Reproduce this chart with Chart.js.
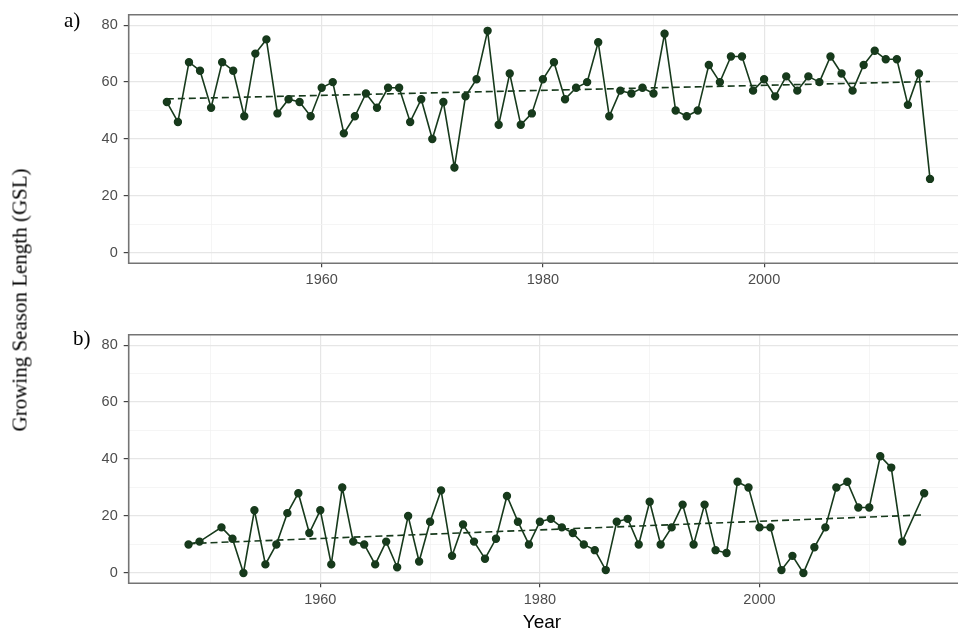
<!DOCTYPE html>
<html>
<head>
<meta charset="utf-8">
<script src="https://cdn.jsdelivr.net/npm/chart.js@4.4.1/dist/chart.umd.min.js"></script>
<style>
  body { margin: 0; width: 958px; height: 632px; overflow: hidden; background: #fff; position: relative; }
  canvas { position: absolute; left: 0; }
  .lbl { position: absolute; font-family: "Liberation Serif", serif; font-size: 21px; color: #000; }
  #ytitle { position: absolute; left: 20px; top: 300px; transform: translate(-50%, -50%) rotate(-90deg);
            white-space: nowrap; font-family: "Liberation Serif", serif; font-size: 21px; color: #000; }
  #xtitle { position: absolute; left: 542px; top: 622px; transform: translate(-50%, -50%);
            font-family: "Liberation Sans", Arial, sans-serif; font-size: 19px; color: #000; }
</style>
</head>
<body>
<canvas id="chartA" width="958" height="300" style="top:0;"></canvas>
<canvas id="chartB" width="958" height="312" style="top:320px;"></canvas>
<div class="lbl" style="left:64px; top:8px;">a)</div>
<div class="lbl" style="left:73px; top:326px;">b)</div>
<div id="ytitle">Growing Season Length (GSL)</div>
<div id="xtitle">Year</div>

<script>
// panel a) years and GSL values
let yearsA = [1946,1947,1948,1949,1950,1951,1952,1953,1954,1955,
              1956,1957,1958,1959,1960,1961,1962,1963,1964,1965,
              1966,1967,1968,1969,1970,1971,1972,1973,1974,1975,
              1976,1977,1978,1979,1980,1981,1982,1983,1984,1985,
              1986,1987,1988,1989,1990,1991,1992,1993,1994,1995,
              1996,1997,1998,1999,2000,2001,2002,2003,2004,2005,
              2006,2007,2008,2009,2010,2011,2012,2013,2014,2015];
let gslA = [53,46,67,64,51,67,64,48,70,75,
            49,54,53,48,58,60,42,48,56,51,
            58,58,46,54,40,53,30,55,61,78,
            45,63,45,49,61,67,54,58,60,74,
            48,57,56,58,56,77,50,48,50,66,
            60,69,69,57,61,55,62,57,62,60,
            69,63,57,66,71,68,68,52,63,26];
let trendYearsA = [1946, 2015];
let trendA = [54.1, 60.2];

// panel b) (no value for 1950 and 2014)
let yearsB = [1948,1949,1951,1952,1953,1954,1955,1956,1957,1958,1959,
              1960,1961,1962,1963,1964,1965,1966,1967,1968,1969,
              1970,1971,1972,1973,1974,1975,1976,1977,1978,1979,
              1980,1981,1982,1983,1984,1985,1986,1987,1988,1989,
              1990,1991,1992,1993,1994,1995,1996,1997,1998,1999,
              2000,2001,2002,2003,2004,2005,2006,2007,2008,2009,
              2010,2011,2012,2013,2015];
let gslB = [10,11,16,12,0,22,3,10,21,28,14,
            22,3,30,11,10,3,11,2,20,4,
            18,29,6,17,11,5,12,27,18,10,
            18,19,16,14,10,8,1,18,19,10,
            25,10,16,24,10,24,8,7,32,30,
            16,16,1,6,0,9,16,30,32,23,
            23,41,37,11,28];
let trendYearsB = [1948, 2015];
let trendB = [10.3, 20.4];

// axis ticks (gridlines every 10, labels every 20)
let xTicks = [1950,1960,1970,1980,1990,2000,2010];
let yTicks = [0,10,20,30,40,50,60,70,80];

const green = '#173a1c';
const tickFont = { family: 'Liberation Sans, Arial, sans-serif', size: 14.5 };

// ggplot style box around the panel (right side is cut off in the figure)
const boxPlugin = {
  id: 'panelBox',
  afterDraw(chart) {
    const a = chart.chartArea;
    const c = chart.ctx;
    c.save();
    c.strokeStyle = '#747474';
    c.lineWidth = 1.6;
    c.beginPath();
    c.moveTo(chart.width + 2, a.top);
    c.lineTo(a.left, a.top);
    c.lineTo(a.left, a.bottom);
    c.lineTo(chart.width + 2, a.bottom);
    c.stroke();
    c.restore();
  }
};

function makePanel(id, years, vals, tYears, tVals, xMax, xAxisHeight) {
  let pts = years.map((y, i) => ({ x: y, y: vals[i] }));
  let trend = tYears.map((y, i) => ({ x: y, y: tVals[i] }));
  return new Chart(id, {
    type: 'line',
    data: {
      datasets: [{
        data: pts,
        borderColor: green,
        backgroundColor: green,
        borderWidth: 1.6,
        pointRadius: 3.4,
        pointHoverRadius: 3.4,
        tension: 0
      }, {
        data: trend,
        borderColor: green,
        borderWidth: 1.6,
        borderDash: [7, 4],
        pointRadius: 0,
        tension: 0
      }]
    },
    options: {
      responsive: false,
      animation: false,
      events: [],
      layout: { autoPadding: false, padding: { top: 9, left: 0, right: 0, bottom: 0 } },
      plugins: { legend: { display: false }, tooltip: { enabled: false } },
      scales: {
        x: {
          type: 'linear',
          min: 1942.55,
          max: xMax,
          afterBuildTicks: s => { s.ticks = xTicks.map(v => ({ value: v })); },
          afterFit: s => { s.height = xAxisHeight; },
          border: { display: false },
          grid: {
            color: c => (c.tick.value % 20 === 0 ? '#e6e6e6' : '#f2f2f2'),
            lineWidth: c => (c.tick.value % 20 === 0 ? 1.2 : 0.8),
            tickLength: 4,
            tickColor: c => (c.tick.value % 20 === 0 ? '#444' : 'rgba(0,0,0,0)')
          },
          ticks: {
            maxRotation: 0,
            autoSkip: false,
            padding: 4,
            color: '#4d4d4d',
            font: tickFont,
            callback: v => (v % 20 === 0 ? String(v) : '')
          }
        },
        y: {
          min: -3.64,
          max: 83.67,
          afterBuildTicks: s => { s.ticks = yTicks.map(v => ({ value: v })); },
          afterFit: s => { s.width = 128.7; },
          border: { display: false },
          grid: {
            color: c => (c.tick.value % 20 === 0 ? '#e6e6e6' : '#f2f2f2'),
            lineWidth: c => (c.tick.value % 20 === 0 ? 1.2 : 0.8),
            tickLength: 5,
            tickColor: c => (c.tick.value % 20 === 0 ? '#444' : 'rgba(0,0,0,0)')
          },
          ticks: {
            padding: 6,
            color: '#4d4d4d',
            font: tickFont,
            callback: v => (v % 20 === 0 ? String(v) : '')
          }
        }
      }
    },
    plugins: [boxPlugin]
  });
}

// visible x range ends at the picture edge (panel b is drawn slightly narrower)
makePanel('chartA', yearsA, gslA, trendYearsA, trendA, 2017.53, 36.7);
makePanel('chartB', yearsB, gslB, trendYearsB, trendB, 2018.08, 48.7);
</script>
</body>
</html>
